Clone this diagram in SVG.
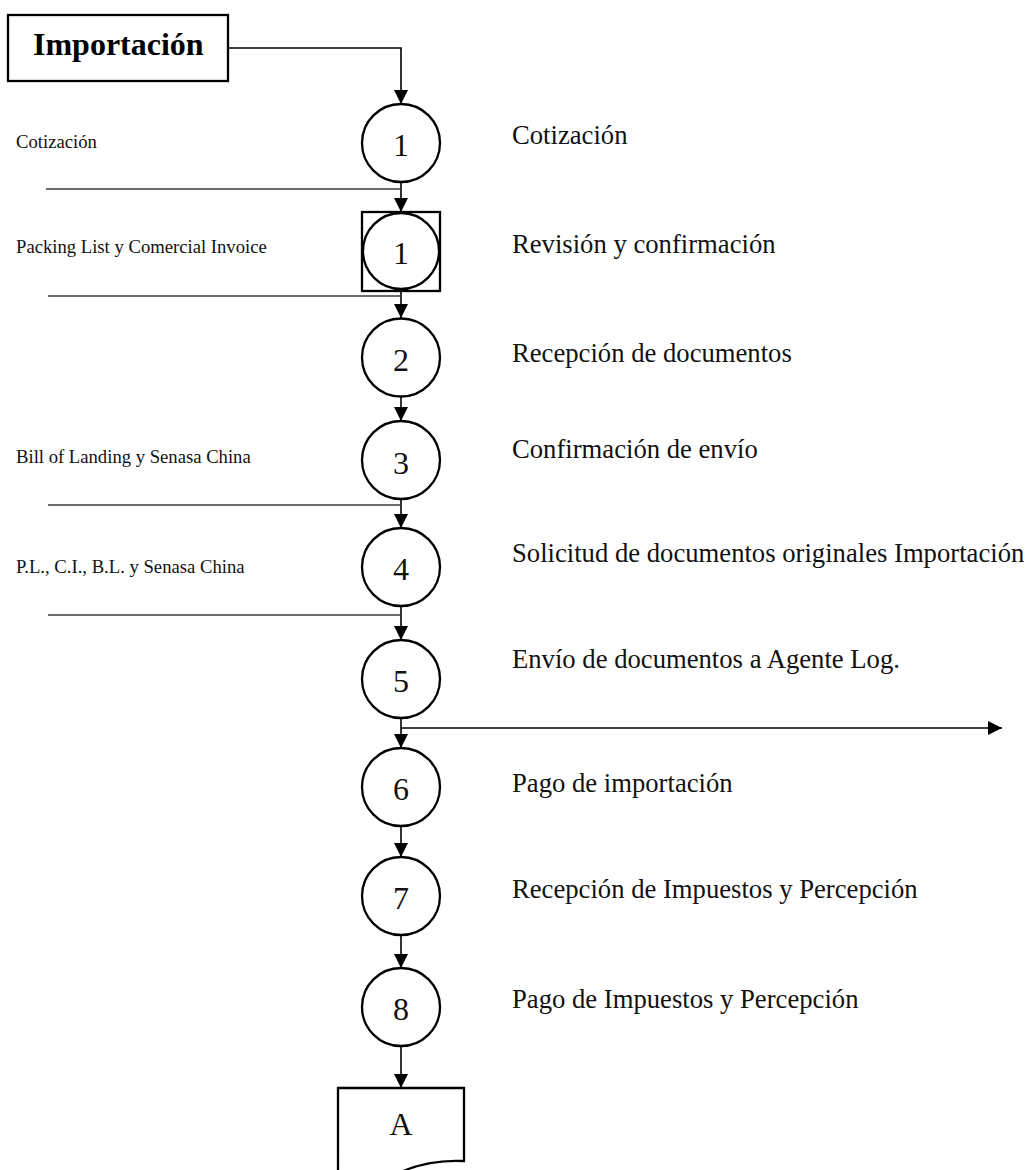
<svg xmlns="http://www.w3.org/2000/svg" width="1027" height="1170" viewBox="0 0 1027 1170">
  <style>
    .bg { fill: #ffffff; }
    .node { fill: #ffffff; stroke: #000000; stroke-width: 2.3; }
    .num { font-family: "Liberation Serif", "Times New Roman", serif; font-size: 32px; fill: #111111; text-anchor: middle; }
    .step { font-family: "Liberation Serif", "Times New Roman", serif; font-size: 26.67px; fill: #111111; }
    .doc { font-family: "Liberation Serif", "Times New Roman", serif; font-size: 18.67px; fill: #111111; }
    .title { font-family: "Liberation Serif", "Times New Roman", serif; font-size: 32px; font-weight: bold; fill: #000000; }
    .flow { fill: none; stroke: #000000; stroke-width: 1.6; }
    .feed { fill: none; stroke: #3a3a3a; stroke-width: 1.6; }
  </style>
  <defs>
    <marker id="arrow" markerUnits="userSpaceOnUse" markerWidth="15" markerHeight="15" refX="14" refY="7" orient="auto">
      <path d="M0,0 L14,7 L0,14 Z" fill="#000000"/>
    </marker>
  </defs>

  <rect class="bg" x="0" y="0" width="1027" height="1170"/>

  <!-- connectors -->
  <g id="connectors">
    <polyline class="flow" points="228,48 401,48 401,104" marker-end="url(#arrow)"/>
    <line class="flow" x1="401" y1="182" x2="401" y2="212" marker-end="url(#arrow)"/>
    <line class="flow" x1="401" y1="291" x2="401" y2="318" marker-end="url(#arrow)"/>
    <line class="flow" x1="401" y1="397" x2="401" y2="421" marker-end="url(#arrow)"/>
    <line class="flow" x1="401" y1="499" x2="401" y2="528" marker-end="url(#arrow)"/>
    <line class="flow" x1="401" y1="606" x2="401" y2="640" marker-end="url(#arrow)"/>
    <line class="flow" x1="401" y1="718" x2="401" y2="748" marker-end="url(#arrow)"/>
    <line class="flow" x1="401" y1="826" x2="401" y2="857" marker-end="url(#arrow)"/>
    <line class="flow" x1="401" y1="935" x2="401" y2="968" marker-end="url(#arrow)"/>
    <line class="flow" x1="401" y1="1046" x2="401" y2="1088" marker-end="url(#arrow)"/>
    <line class="flow" x1="401" y1="728" x2="1002" y2="728" marker-end="url(#arrow)"/>
    <!-- incoming document feeds -->
    <line class="feed" x1="46" y1="189" x2="401" y2="189"/>
    <line class="feed" x1="48" y1="296" x2="401" y2="296"/>
    <line class="feed" x1="48" y1="505" x2="401" y2="505"/>
    <line class="feed" x1="48" y1="615" x2="401" y2="615"/>
  </g>

  <!-- start box -->
  <g id="node-importacion">
    <rect class="node" x="8" y="15" width="220" height="66" stroke-width="1.6"/>
    <text class="title" x="33" y="55">Importación</text>
  </g>

  <g id="node-1">
    <circle class="node" cx="401" cy="143" r="39"/>
    <text class="num" x="401" y="156">1</text>
  </g>

  <g id="node-1b">
    <rect class="node" x="362" y="212" width="78" height="79" stroke-width="2.6"/>
    <circle class="node" cx="401" cy="251" r="38"/>
    <text class="num" x="401" y="264">1</text>
  </g>

  <g id="node-2">
    <circle class="node" cx="401" cy="357.5" r="39"/>
    <text class="num" x="401" y="371">2</text>
  </g>

  <g id="node-3">
    <circle class="node" cx="401" cy="460" r="39"/>
    <text class="num" x="401" y="474">3</text>
  </g>

  <g id="node-4">
    <circle class="node" cx="401" cy="567" r="39"/>
    <text class="num" x="401" y="580">4</text>
  </g>

  <g id="node-5">
    <circle class="node" cx="401" cy="679" r="39"/>
    <text class="num" x="401" y="692">5</text>
  </g>

  <g id="node-6">
    <circle class="node" cx="401" cy="787" r="39"/>
    <text class="num" x="401" y="800">6</text>
  </g>

  <g id="node-7">
    <circle class="node" cx="401" cy="896" r="39"/>
    <text class="num" x="401" y="909">7</text>
  </g>

  <g id="node-8">
    <circle class="node" cx="401" cy="1007" r="39"/>
    <text class="num" x="401" y="1020">8</text>
  </g>

  <!-- off-page document connector -->
  <g id="node-a">
    <path class="node" d="M338,1088 H464 V1161 C445,1160 425,1162 403,1171 C385,1178 360,1182 338,1178 Z"/>
    <text class="num" x="401" y="1135">A</text>
  </g>

  <!-- step descriptions -->
  <g id="step-labels">
    <text class="step" x="512" y="144">Cotización</text>
    <text class="step" x="512" y="253">Revisión y confirmación</text>
    <text class="step" x="512" y="362">Recepción de documentos</text>
    <text class="step" x="512" y="458">Confirmación de envío</text>
    <text class="step" x="512" y="562">Solicitud de documentos originales Importación</text>
    <text class="step" x="512" y="668">Envío de documentos a Agente Log.</text>
    <text class="step" x="512" y="792">Pago de importación</text>
    <text class="step" x="512" y="898">Recepción de Impuestos y Percepción</text>
    <text class="step" x="512" y="1008">Pago de Impuestos y Percepción</text>
  </g>

  <!-- incoming document names -->
  <g id="doc-labels">
    <text class="doc" x="16" y="148">Cotización</text>
    <text class="doc" x="16" y="253">Packing List y Comercial Invoice</text>
    <text class="doc" x="16" y="463">Bill of Landing y Senasa China</text>
    <text class="doc" x="16" y="573">P.L., C.I., B.L. y Senasa China</text>
  </g>
</svg>
